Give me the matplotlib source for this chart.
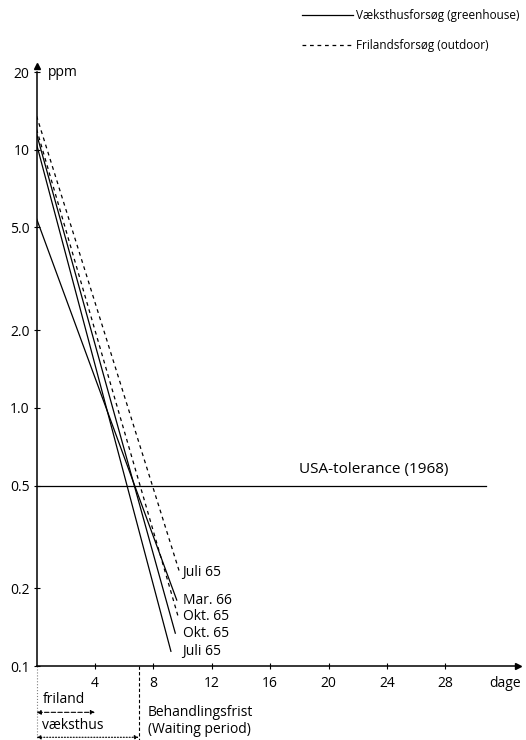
import matplotlib
matplotlib.use("Agg")
import matplotlib.pyplot as plt

plt.rcParams['font.family'] = ['Open Sans', 'DejaVu Sans']
FS = 10

# residue curves: label, style, start ppm (day 0), last day, last ppm
series_labels = ['Juli 65', 'Mar. 66', 'Okt. 65', 'Okt. 65', 'Juli 65']
series_kind = ['friland', 'vaeksthus', 'friland', 'vaeksthus', 'vaeksthus']
start_ppm = [13.5, 5.4, 12.0, 11.5, 10.5]
end_day = [9.8, 9.6, 9.7, 9.5, 9.2]
end_ppm = [0.23, 0.18, 0.155, 0.134, 0.114]

y_ticks = [0.1, 0.2, 0.5, 1.0, 2.0, 5.0, 10, 20]
y_ticklabels = ['0.1', '0.2', '0.5', '1.0', '2.0', '5.0', '10', '20']
x_ticks = [4, 8, 12, 16, 20, 24, 28]

tolerance = 0.5
waiting_friland = 4
waiting_vaeksthus = 7

fig = plt.figure(figsize=(5.26, 7.40), dpi=100)
ax = fig.add_axes([36.6 / 526, 74 / 740, 481.8 / 526, 594 / 740])

styles = {'vaeksthus': dict(color='black', lw=0.9, ls='-'),
          'friland': dict(color='black', lw=0.9, ls=(0, (3, 3)))}

for lab, kind, s, d, e in zip(series_labels, series_kind, start_ppm, end_day, end_ppm):
    ax.plot([0, d], [s, e], **styles[kind])
    ax.text(10.0, e, lab, fontsize=FS, va='center', ha='left')

ax.plot([0, 30.8], [tolerance, tolerance], color='black', lw=0.9)
ax.text(18.0, 0.54, 'USA-tolerance (1968)', fontsize=11, va='bottom', ha='left')

ax.set_yscale('log')
ax.set_ylim(0.1, 20)
ax.set_xlim(0, 33)
ax.set_yticks(y_ticks)
ax.set_yticklabels(y_ticklabels)
ax.minorticks_off()
ax.set_xticks(x_ticks)
ax.tick_params(axis='both', labelsize=FS, direction='inout', length=4, width=0.8)
ax.tick_params(axis='x', pad=5)
ax.tick_params(axis='y', pad=3)

for sp in ['top', 'right']:
    ax.spines[sp].set_visible(False)
for sp in ['left', 'bottom']:
    ax.spines[sp].set_linewidth(1.1)

# axis arrowheads
ax.plot(1, 0, '>k', ms=5, transform=ax.transAxes, clip_on=False)
ax.plot(0, 1.01, '^k', ms=5, transform=ax.transAxes, clip_on=False)

ax.text(0.8, 20, 'ppm', fontsize=FS, va='center', ha='left')
tr = ax.get_xaxis_transform()
ax.text(32.1, -0.029, 'dage', fontsize=FS, va='center', ha='center', transform=tr)

# waiting period marks below the axis
ax.plot([0, 0], [0, -0.13], color='gray', lw=0.8, ls=':', transform=tr, clip_on=False)
ax.plot([waiting_vaeksthus] * 2, [0, -0.13], color='black', lw=0.8, ls=(0, (3, 2)),
        transform=tr, clip_on=False)
ax.text(0.4, -0.056, 'friland', fontsize=FS, va='center', ha='left', transform=tr)
ax.annotate('', xy=(waiting_friland, -0.078), xytext=(0, -0.078), xycoords=tr, textcoords=tr,
            arrowprops=dict(arrowstyle='<|-|>', lw=0.8, ls=(0, (4, 2)), color='black',
                            mutation_scale=6, shrinkA=0, shrinkB=0))
ax.text(0.4, -0.1, 'væksthus', fontsize=FS, va='center', ha='left', transform=tr)
ax.annotate('', xy=(waiting_vaeksthus, -0.12), xytext=(0, -0.12), xycoords=tr, textcoords=tr,
            arrowprops=dict(arrowstyle='<|-|>', lw=0.8, ls=':', color='black',
                            mutation_scale=6, shrinkA=0, shrinkB=0))
ax.text(7.6, -0.092, 'Behandlingsfrist\n(Waiting period)', fontsize=FS, va='center',
        ha='left', transform=tr, linespacing=1.2)

# legend
h1, = ax.plot([], [], **styles['vaeksthus'])
h2, = ax.plot([], [], **styles['friland'])
fig.legend([h1, h2], ['Væksthusforsøg (greenhouse)', 'Frilandsforsøg (outdoor)'],
           loc='upper left', bbox_to_anchor=(302 / 526, 1 - 9 / 740), frameon=False,
           fontsize=8.5, handlelength=4.3, handletextpad=0.3, labelspacing=1.45,
           borderaxespad=0, borderpad=0)

fig.savefig('out.png', dpi=100)
